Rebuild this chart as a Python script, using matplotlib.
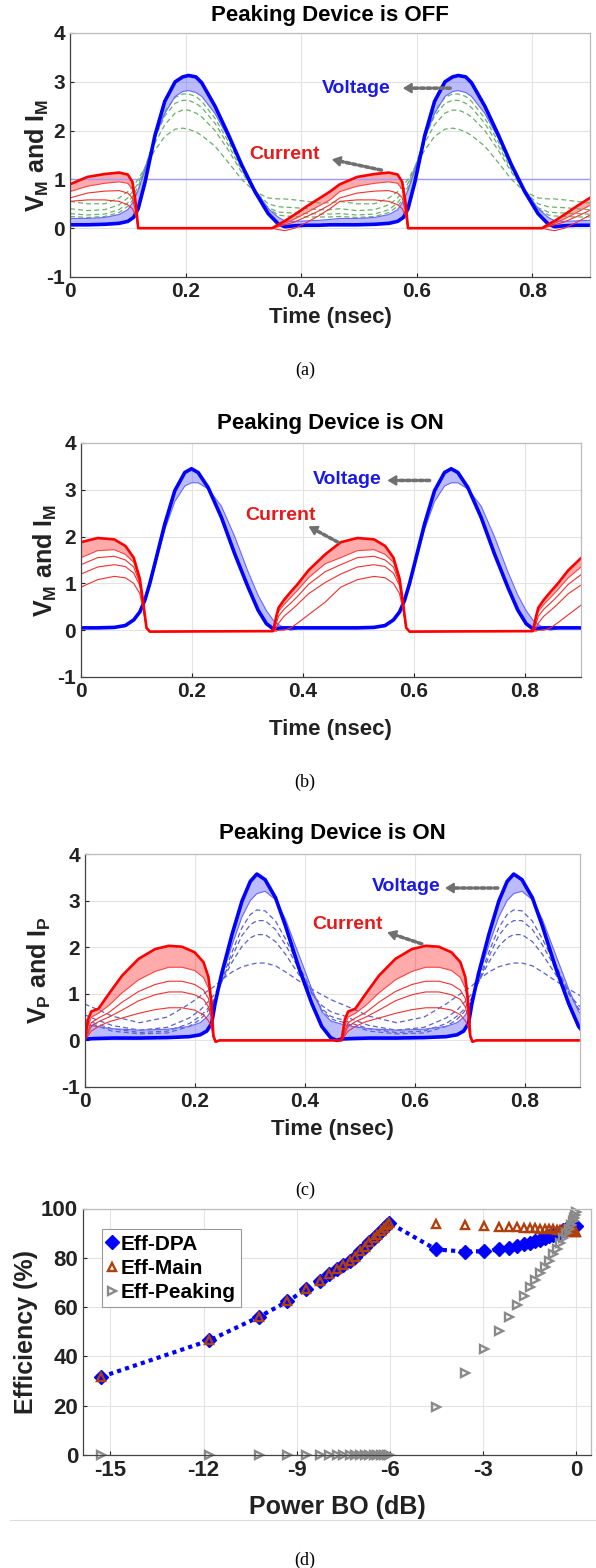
import numpy as np
import matplotlib
matplotlib.use("Agg")
import matplotlib.pyplot as plt
from matplotlib.lines import Line2D

plt.rcParams['font.family'] = ['Liberation Sans', 'DejaVu Sans']
plt.rcParams['font.weight'] = 'bold'
plt.rcParams['mathtext.fontset'] = 'custom'
plt.rcParams['mathtext.rm'] = 'Liberation Sans:bold'
plt.rcParams['mathtext.bf'] = 'Liberation Sans:bold'
plt.rcParams['axes.unicode_minus'] = False

# ---------------- data: panel (a) main device, peaking OFF (one period) ----------------
T_A = 0.467
tA_v = [0.000, 0.030, 0.060, 0.085, 0.100, 0.110, 0.118, 0.130, 0.147, 0.164, 0.182, 0.195, 0.205,
        0.218, 0.228, 0.251, 0.274, 0.297, 0.320, 0.343, 0.361, 0.372, 0.389, 0.410, 0.430, 0.450, 0.467]
vA_max = [0.07, 0.07, 0.08, 0.10, 0.14, 0.22, 0.40, 0.95, 1.90, 2.60, 3.00, 3.10, 3.13,
          3.10, 2.98, 2.50, 1.92, 1.30, 0.75, 0.30, 0.08, 0.03, 0.05, 0.06, 0.06, 0.07, 0.07]
vA_min = [0.20, 0.20, 0.22, 0.28, 0.38, 0.55, 0.78, 1.20, 1.85, 2.35, 2.70, 2.80, 2.82,
          2.78, 2.70, 2.35, 1.85, 1.30, 0.80, 0.40, 0.22, 0.15, 0.14, 0.15, 0.16, 0.18, 0.20]
vA_d1 = [0.55, 0.50, 0.50, 0.62, 0.75, 0.88, 1.00, 1.25, 1.60, 1.88, 2.03, 2.05, 2.03,
         1.97, 1.90, 1.68, 1.35, 1.00, 0.75, 0.62, 0.60, 0.60, 0.58, 0.55, 0.52, 0.52, 0.55]
vA_d2 = [0.40, 0.36, 0.38, 0.48, 0.62, 0.78, 0.92, 1.25, 1.75, 2.12, 2.36, 2.42, 2.42,
         2.36, 2.28, 2.00, 1.60, 1.15, 0.75, 0.50, 0.44, 0.43, 0.42, 0.40, 0.38, 0.38, 0.40]
vA_d3 = [0.30, 0.27, 0.29, 0.38, 0.52, 0.68, 0.85, 1.25, 1.85, 2.30, 2.56, 2.62, 2.62,
         2.56, 2.47, 2.15, 1.70, 1.20, 0.75, 0.42, 0.33, 0.32, 0.31, 0.30, 0.29, 0.29, 0.30]
vA_d4 = [0.24, 0.22, 0.24, 0.32, 0.45, 0.60, 0.78, 1.20, 1.88, 2.40, 2.68, 2.75, 2.75,
         2.70, 2.60, 2.25, 1.78, 1.25, 0.77, 0.40, 0.27, 0.25, 0.24, 0.23, 0.23, 0.23, 0.24]
VDD_A = 1.0
tA_i = [0.000, 0.030, 0.060, 0.085, 0.100, 0.108, 0.114, 0.118, 0.125, 0.350, 0.361, 0.372,
        0.389, 0.410, 0.430, 0.450, 0.467]
iA_max = [0.90, 1.05, 1.11, 1.14, 1.10, 0.95, 0.50, 0.00, 0.00, 0.00, 0.08, 0.15, 0.28, 0.45, 0.60, 0.75, 0.90]
iA_b = [0.75, 0.86, 0.92, 0.95, 0.92, 0.80, 0.40, 0.00, 0.00, 0.00, 0.05, 0.10, 0.19, 0.32, 0.45, 0.58, 0.75]
iA_3 = [0.62, 0.72, 0.76, 0.77, 0.72, 0.62, 0.32, 0.00, 0.00, 0.00, 0.03, 0.07, 0.13, 0.24, 0.35, 0.48, 0.62]
iA_4 = [0.55, 0.58, 0.58, 0.55, 0.48, 0.40, 0.25, 0.00, 0.00, 0.00, -0.03, -0.05, 0.00, 0.12, 0.25, 0.40, 0.55]

# ---------------- data: panel (b) main device, peaking ON ----------------
T_B = 0.468
tB_v = [0.000, 0.030, 0.060, 0.080, 0.095, 0.106, 0.115, 0.124, 0.133, 0.151, 0.169, 0.187, 0.199, 0.211,
        0.229, 0.253, 0.277, 0.301, 0.319, 0.334, 0.346, 0.356, 0.366, 0.378, 0.390, 0.410, 0.440, 0.468]
vB_max = [0.05, 0.05, 0.06, 0.10, 0.22, 0.39, 0.64, 1.00, 1.42, 2.27, 2.98, 3.37, 3.45, 3.37,
          3.05, 2.41, 1.63, 0.92, 0.43, 0.14, 0.03, 0.04, 0.05, 0.05, 0.05, 0.05, 0.05, 0.05]
vB_min = [0.05, 0.05, 0.06, 0.10, 0.22, 0.39, 0.62, 0.95, 1.35, 2.15, 2.75, 3.08, 3.15, 3.15,
          3.02, 2.65, 2.00, 1.25, 0.75, 0.42, 0.22, 0.12, 0.05, 0.00, 0.03, 0.05, 0.05, 0.05]
tB_i = [0.000, 0.030, 0.060, 0.080, 0.095, 0.106, 0.112, 0.118, 0.124, 0.346, 0.352, 0.356, 0.366,
        0.378, 0.390, 0.410, 0.440, 0.468]
iB_max = [1.88, 1.97, 1.94, 1.80, 1.55, 1.10, 0.60, 0.05, -0.03, -0.02, 0.30, 0.48, 0.65, 0.82, 0.98, 1.28, 1.62, 1.85]
iB_b = [1.55, 1.70, 1.72, 1.62, 1.45, 1.05, 0.55, 0.05, -0.03, -0.02, 0.25, 0.40, 0.55, 0.70, 0.85, 1.12, 1.42, 1.55]
iB_3 = [1.40, 1.55, 1.58, 1.50, 1.35, 1.00, 0.52, 0.05, -0.03, -0.02, 0.15, 0.30, 0.45, 0.58, 0.72, 0.98, 1.25, 1.40]
iB_2 = [1.20, 1.35, 1.40, 1.36, 1.22, 0.95, 0.50, 0.05, -0.03, -0.02, 0.05, 0.15, 0.30, 0.42, 0.55, 0.78, 1.02, 1.20]
iB_min = [0.92, 1.08, 1.15, 1.12, 1.00, 0.78, 0.45, 0.05, -0.03, -0.02, -0.02, 0.00, 0.00, 0.05, 0.15, 0.33, 0.60, 0.92]

# ---------------- data: panel (c) peaking device, ON ----------------
T_C = 0.467
tC_v = [0.000, 0.020, 0.050, 0.100, 0.150, 0.190, 0.210, 0.222, 0.231, 0.237, 0.249, 0.268, 0.286,
        0.301, 0.313, 0.328, 0.347, 0.365, 0.389, 0.413, 0.431, 0.447, 0.458, 0.467]
vC_max = [0.03, 0.04, 0.05, 0.05, 0.06, 0.08, 0.12, 0.20, 0.37, 0.79, 1.43, 2.28, 2.99,
          3.41, 3.57, 3.45, 3.06, 2.46, 1.57, 0.79, 0.30, 0.06, 0.00, 0.03]
vC_min = [0.35, 0.30, 0.25, 0.22, 0.24, 0.30, 0.38, 0.50, 0.65, 0.85, 1.35, 2.05, 2.65,
          3.00, 3.15, 3.20, 3.02, 2.60, 1.85, 1.10, 0.62, 0.42, 0.38, 0.35]
vC_d1 = [0.78, 0.68, 0.52, 0.38, 0.50, 0.78, 0.95, 1.05, 1.12, 1.17, 1.30, 1.47, 1.58,
         1.63, 1.66, 1.66, 1.60, 1.47, 1.28, 1.10, 0.98, 0.88, 0.82, 0.78]
vC_d2 = [0.55, 0.45, 0.32, 0.22, 0.28, 0.48, 0.65, 0.80, 0.92, 1.00, 1.25, 1.68, 2.02,
         2.20, 2.27, 2.27, 2.12, 1.85, 1.42, 1.00, 0.75, 0.62, 0.57, 0.55]
vC_d3 = [0.45, 0.36, 0.25, 0.17, 0.20, 0.36, 0.52, 0.66, 0.80, 0.92, 1.25, 1.80, 2.25,
         2.48, 2.57, 2.57, 2.38, 2.05, 1.55, 1.02, 0.68, 0.52, 0.47, 0.45]
vC_d4 = [0.40, 0.32, 0.20, 0.14, 0.16, 0.30, 0.45, 0.60, 0.75, 0.90, 1.28, 1.90, 2.42,
         2.70, 2.80, 2.78, 2.56, 2.18, 1.62, 1.05, 0.65, 0.47, 0.42, 0.40]
tC_i = [0.000, 0.006, 0.012, 0.025, 0.044, 0.068, 0.098, 0.128, 0.153, 0.177, 0.200, 0.216, 0.225,
        0.230, 0.234, 0.238, 0.245, 0.467]
iC_max = [0.00, 0.45, 0.62, 0.68, 1.00, 1.39, 1.75, 1.96, 2.03, 2.01, 1.89, 1.68, 1.36, 0.86, 0.10, -0.03, 0.00, 0.00]
iC_b = [0.00, 0.30, 0.50, 0.58, 0.75, 1.02, 1.30, 1.48, 1.57, 1.57, 1.50, 1.35, 1.12, 0.75, 0.10, -0.03, 0.00, 0.00]
iC_3 = [0.00, 0.20, 0.38, 0.48, 0.60, 0.82, 1.05, 1.20, 1.27, 1.27, 1.20, 1.08, 0.90, 0.60, 0.08, -0.03, 0.00, 0.00]
iC_4 = [0.00, 0.15, 0.30, 0.40, 0.50, 0.65, 0.85, 0.98, 1.04, 1.04, 0.98, 0.88, 0.72, 0.50, 0.08, -0.03, 0.00, 0.00]
iC_5 = [0.00, 0.10, 0.20, 0.30, 0.40, 0.48, 0.58, 0.66, 0.70, 0.70, 0.65, 0.55, 0.42, 0.30, 0.05, -0.02, 0.00, 0.00]

# ---------------- data: panel (d) efficiency vs back-off ----------------
bo_lo = [-15.29, -11.81, -10.22, -9.30, -8.69, -8.25, -7.96, -7.71, -7.50, -7.30, -7.12, -6.95,
         -6.80, -6.66, -6.53, -6.41, -6.30, -6.20, -6.11, -6.04]
dpa_lo = [31.7, 46.5, 56.0, 62.3, 67.3, 70.5, 73.3, 75.5, 76.9, 78.5, 80.5, 82.6,
          84.5, 86.3, 87.9, 89.3, 90.7, 92.0, 93.3, 94.3]
main_lo = [31.7, 46.5, 56.0, 62.3, 67.3, 70.5, 73.3, 75.5, 76.9, 78.5, 80.5, 82.6,
           84.5, 86.3, 87.9, 89.3, 90.7, 92.0, 93.3, 94.3]
peak_lo = [0, 0, 0, 0, 0, 0, 0, 0, 0, 0, 0, 0, 0, 0, 0, 0, 0, 0, 0, 0]
bo_hi = [-4.52, -3.59, -2.97, -2.49, -2.16, -1.90, -1.69, -1.50, -1.33, -1.17, -1.02, -0.88,
         -0.75, -0.63, -0.52, -0.42, -0.33, -0.25, -0.18, -0.12, -0.07, -0.03, 0.00]
dpa_hi = [83.4, 82.5, 82.7, 83.4, 84.1, 84.9, 85.5, 86.2, 86.7, 87.4, 88.0, 88.7,
          89.4, 90.0, 90.6, 91.2, 91.7, 92.1, 92.4, 92.6, 92.8, 92.9, 92.8]
main_hi = [93.7, 93.2, 92.7, 92.6, 92.4, 92.3, 92.2, 92.0, 91.9, 91.8, 91.7, 91.6,
           91.5, 91.4, 91.3, 91.2, 91.1, 91.0, 90.9, 90.8, 90.6, 90.5, 90.3]
peak_hi = [19.6, 33.1, 42.9, 50.3, 56.1, 60.9, 64.6, 68.0, 71.0, 73.7, 76.4, 78.9,
           81.4, 83.7, 85.9, 88.0, 89.9, 91.7, 93.3, 94.8, 96.2, 97.5, 98.6]

x_ticks_t = [0, 0.2, 0.4, 0.6, 0.8]
x_tick_labels_t = ['0', '0.2', '0.4', '0.6', '0.8']
y_ticks_w = [-1, 0, 1, 2, 3, 4]
x_ticks_d = [-15, -12, -9, -6, -3, 0]
y_ticks_d = [0, 20, 40, 60, 80, 100]

# ---------------- figure ----------------
W, H = 596, 1568
fig = plt.figure(figsize=(W / 100, H / 100), dpi=100)


def rect(l, r, t, b):
    return [l / W, 1 - b / H, (r - l) / W, (b - t) / H]


def tile(t, y, T, n=3):
    t = np.asarray(t, float)
    y = np.asarray(y, float)
    tt = np.concatenate([t[:-1] + k * T for k in range(n)] + [[t[-1] + (n - 1) * T]])
    yy = np.concatenate([y[:-1] for k in range(n)] + [[y[-1]]])
    return tt, yy


def style(ax, l, r, t, b, xlab_y, ylab_x, xlabel, ylabel, title=None, title_y=None,
          fs_xlab=16, fs_ylab=18, fs_tick=15):
    for s in ['left', 'bottom']:
        ax.spines[s].set_color('#444444')
    for s in ['top', 'right']:
        ax.spines[s].set_color('#bbbbbb')
    for s in ax.spines.values():
        s.set_linewidth(0.9)
    ax.grid(True, color='#e3e3e3', lw=0.8)
    ax.set_axisbelow(True)
    ax.tick_params(direction='in', length=3, width=0.8, colors='#222222', labelsize=fs_tick)
    for lab in ax.get_xticklabels() + ax.get_yticklabels():
        lab.set_fontweight('bold')
    ax.set_xlabel(xlabel, fontsize=fs_xlab, fontweight='bold', color='#222222')
    ax.xaxis.set_label_coords(0.5, (b - xlab_y) / (b - t))
    ax.xaxis.label.set_va('center')
    ax.set_ylabel(ylabel, fontsize=fs_ylab, fontweight='bold', color='#222222')
    ax.yaxis.set_label_coords((ylab_x - l) / (r - l), 0.5)
    ax.yaxis.label.set_va('center')
    if title:
        fig.text(((l + r) / 2) / W, 1 - title_y / H, title, ha='center', va='center',
                 fontsize=16, fontweight='bold', color='black')


def arrow(ax, text_xy, tail, head, label, color):
    ax.text(text_xy[0], text_xy[1], label, color=color, fontsize=14, fontweight='bold',
            ha='center', va='center')
    ax.annotate('', xy=head, xytext=tail,
                arrowprops=dict(arrowstyle='-', lw=2.6, ls=(0, (1, 0.8)), color='#707070',
                                shrinkA=0, shrinkB=4))
    ax.annotate('', xy=head, xytext=(head[0] + (tail[0] - head[0]) * 0.25, head[1] + (tail[1] - head[1]) * 0.25),
                arrowprops=dict(arrowstyle='-|>,head_length=0.5,head_width=0.3', lw=1.5, color='#707070',
                                shrinkA=0, shrinkB=0))


BLUE = '#0000ff'
RED = '#ff0000'


def voltage_bundle(ax, t, vmax, vmin, T):
    tt, a = tile(t, vmax, T)
    _, b = tile(t, vmin, T)
    ax.fill_between(tt, a, b, color='#3333ff', alpha=0.33, lw=0)
    ax.plot(tt, b, color='#6666ff', lw=0.8)
    ax.plot(tt, a, color=BLUE, lw=2.6)


def current_bundle(ax, t, imax, iband, others, T):
    tt, a = tile(t, imax, T)
    _, b = tile(t, iband, T)
    ax.fill_between(tt, a, b, color=RED, alpha=0.33, lw=0)
    for o in others:
        _, c = tile(t, o, T)
        ax.plot(tt, c, color='#f03030', lw=0.8)
    ax.plot(tt, b, color='#ff4040', lw=0.8)
    ax.plot(tt, a, color=RED, lw=1.9)


# ---- panel (a)
L, R, Tp, B = 70, 590, 33, 277
ax = fig.add_axes(rect(L, R, Tp, B))
ax.axhline(VDD_A, color='#9999ff', lw=1.0)
for d in [vA_d1, vA_d2, vA_d3, vA_d4]:
    tt, yy = tile(tA_v, d, T_A)
    ax.plot(tt, yy, color='#6ab06a', lw=0.9, ls=(0, (4, 2.5)))
voltage_bundle(ax, tA_v, vA_max, vA_min, T_A)
current_bundle(ax, tA_i, iA_max, iA_b, [iA_3, iA_4], T_A)
ax.set_xlim(0, 0.9)
ax.set_ylim(-1, 4)
ax.set_xticks(x_ticks_t)
ax.set_xticklabels(x_tick_labels_t)
ax.set_yticks(y_ticks_w)
style(ax, L, R, Tp, B, 318, 37, 'Time (nsec)', r'V$_{\rm M}$ and I$_{\rm M}$',
      'Peaking Device is OFF', 15)
arrow(ax, (0.495, 2.87), (0.658, 2.87), (0.576, 2.87), 'Voltage', '#1a1ae6')
arrow(ax, (0.371, 1.52), (0.539, 1.19), (0.453, 1.41), 'Current', '#e61a1a')
fig.text(305 / W, 1 - 370 / H, '(a)', family='Liberation Serif', fontweight='normal',
         fontsize=13, ha='center', va='center')

# ---- panel (b)
L, R, Tp, B = 81, 580.5, 443, 677
ax = fig.add_axes(rect(L, R, Tp, B))
voltage_bundle(ax, tB_v, vB_max, vB_min, T_B)
current_bundle(ax, tB_i, iB_max, iB_b, [iB_3, iB_2, iB_min], T_B)
ax.set_xlim(0, 0.9)
ax.set_ylim(-1, 4)
ax.set_xticks(x_ticks_t)
ax.set_xticklabels(x_tick_labels_t)
ax.set_yticks(y_ticks_w)
style(ax, L, R, Tp, B, 730, 45, 'Time (nsec)', r'V$_{\rm M}$ and I$_{\rm M}$',
      'Peaking Device is ON', 423)
arrow(ax, (0.48, 3.23), (0.628, 3.2), (0.552, 3.2), 'Voltage', '#1a1ae6')
arrow(ax, (0.36, 2.45), (0.463, 1.88), (0.41, 2.22), 'Current', '#e61a1a')
fig.text(305 / W, 1 - 782 / H, '(b)', family='Liberation Serif', fontweight='normal',
         fontsize=13, ha='center', va='center')

# ---- panel (c)
L, R, Tp, B = 84.7, 579.7, 854, 1087
ax = fig.add_axes(rect(L, R, Tp, B))
for d in [vC_d1, vC_d2, vC_d3, vC_d4]:
    tt, yy = tile(tC_v, d, T_C)
    ax.plot(tt, yy, color='#5a64c8', lw=0.9, ls=(0, (4, 2.5)))
voltage_bundle(ax, tC_v, vC_max, vC_min, T_C)
current_bundle(ax, tC_i, iC_max, iC_b, [iC_3, iC_4, iC_5], T_C)
ax.set_xlim(0, 0.9)
ax.set_ylim(-1, 4)
ax.set_xticks(x_ticks_t)
ax.set_xticklabels(x_tick_labels_t)
ax.set_yticks(y_ticks_w)
style(ax, L, R, Tp, B, 1129, 39, 'Time (nsec)', r'V$_{\rm P}$ and I$_{\rm P}$',
      'Peaking Device is ON', 833)
arrow(ax, (0.585, 3.30), (0.751, 3.27), (0.655, 3.27), 'Voltage', '#1a1ae6')
arrow(ax, (0.477, 2.48), (0.613, 2.07), (0.55, 2.32), 'Current', '#e61a1a')
fig.text(305 / W, 1 - 1190 / H, '(c)', family='Liberation Serif', fontweight='normal',
         fontsize=13, ha='center', va='center')

# ---- panel (d)
L, R, Tp, B = 83, 591, 1208.5, 1455
ax = fig.add_axes(rect(L, R, Tp, B))
bo_all = bo_lo + bo_hi
ax.plot(bo_all, dpa_lo + dpa_hi, color=BLUE, lw=3, ls=(0, (1, 1)))
ax.plot(bo_all, dpa_lo + dpa_hi, ls='none', marker='D', ms=7.5, color=BLUE, mec=BLUE,
        label='Eff-DPA', clip_on=False)
ax.plot(bo_all, main_lo + main_hi, ls='none', marker='^', ms=6, mfc='none', mec='#b0400c',
        mew=1.7, label='Eff-Main', clip_on=False)
ax.plot(bo_all, peak_lo + peak_hi, ls='none', marker='>', ms=6, mfc='none', mec='#8a8a8a',
        mew=1.7, label='Eff-Peaking', clip_on=False)
ax.set_xlim(-15.88, 0.47)
ax.set_ylim(0, 100)
ax.set_xticks(x_ticks_d)
ax.set_yticks(y_ticks_d)
style(ax, L, R, Tp, B, 1507, 26, 'Power BO (dB)', 'Efficiency (%)', fs_xlab=18, fs_ylab=18,
      fs_tick=16)
leg = ax.legend(loc='upper left', bbox_to_anchor=(0.037, 0.915), handlelength=0.5,
                handletextpad=0.15, labelspacing=0.25, borderpad=0.25, borderaxespad=0,
                fancybox=False, edgecolor='#999999', framealpha=1, prop={'weight': 'bold', 'size': 15})
leg.get_frame().set_linewidth(0.8)
fig.add_artist(Line2D([10 / W, 1], [1 - 1520 / H, 1 - 1520 / H], color='#dddddd', lw=0.8))
fig.text(305 / W, 1 - 1560 / H, '(d)', family='Liberation Serif', fontweight='normal',
         fontsize=13, ha='center', va='center')

fig.savefig('out.png', dpi=100)
